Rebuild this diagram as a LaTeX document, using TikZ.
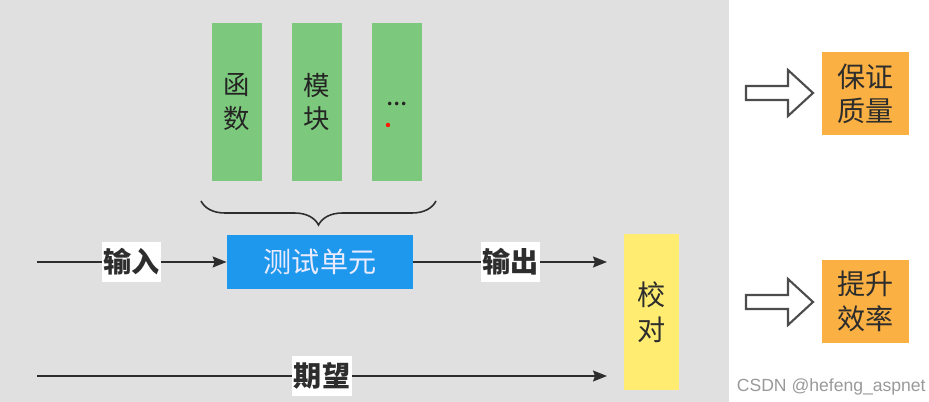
\documentclass[tikz,border=0pt]{standalone}
\usepackage{fontspec}
\setmainfont{Noto Sans CJK SC}
\newfontfamily\markfont{Liberation Sans}
\usetikzlibrary{arrows.meta,decorations.pathreplacing}
\definecolor{bggray}{RGB}{224,224,224}
\definecolor{partgreen}{RGB}{124,200,124}
\definecolor{unitblue}{RGB}{30,152,236}
\definecolor{checkyellow}{RGB}{255,236,112}
\definecolor{gainorange}{RGB}{250,176,66}
\definecolor{inkgray}{RGB}{45,45,45}

\begin{document}
\begin{tikzpicture}[x=0.2mm,y=-0.2mm,
    part/.style={fill=partgreen, minimum width=10mm, minimum height=31.6mm, inner sep=0pt,
      align=center, text=inkgray!80!black, font=\fontsize{15}{19}\selectfont},
    tag/.style={fill=white, inner xsep=0.3mm, inner ysep=1.4mm, text=inkgray, font=\fontsize{16}{18}\selectfont\bfseries},
    flow/.style={line width=0.9pt, inkgray, -{Stealth[length=2.8mm,width=2.2mm,inset=0.4mm]}},
    gain/.style={fill=gainorange, minimum width=17.4mm, minimum height=16.6mm, inner sep=0pt,
      align=center, text=inkgray, font=\fontsize{16}{19.5}\selectfont},
    hollow/.style={draw=inkgray!85, fill=white, line width=1.2pt, line join=miter}]
  \useasboundingbox (0,0) rectangle (929,402);
  \fill[bggray] (0,0) rectangle (729,402);

  % units under test
  \node[part] (func) at (237,102) {函\\数};
  \node[part] (mod) at (317,102) {模\\块};
  \node[part] (more) at (397,102) {\raisebox{-1.4mm}{...}};
  \fill[red!80!orange] (388,125) circle (2.2);
  \draw[line width=0.9pt, inkgray, decorate, decoration={brace, mirror, amplitude=4.8mm}]
    (201,201) -- (436,201);

  \node[fill=unitblue, minimum width=37.2mm, minimum height=10.8mm, inner sep=0pt,
    text=white!92!blue, font=\fontsize{16}{18}\selectfont] (unit) at (320,262) {测试单元};
  \node[fill=checkyellow, minimum width=11mm, minimum height=31.2mm, inner sep=0pt,
    align=center, text=inkgray, font=\fontsize{16}{20}\selectfont] (check) at (651.5,312) {校\\对};

  \coordinate (inL) at (37,262);
  \coordinate (outR) at (607,262);
  \coordinate (expL) at (37,376);
  \coordinate (expR) at (607,376);
  \draw[flow] (inL) -- node[tag] {输入} (unit.west);
  \draw[flow] (unit.east) -- node[tag] {输出} (outR);
  \draw[flow] (expL) -- node[tag] {期望} (expR);

  % results
  \node[gain] (quality) at (865.5,93.5) {保证\\质量};
  \node[gain] (speed) at (865.5,301.5) {提升\\效率};
  \draw[hollow] (746,86) -- ++(42,0) -- ++(0,-16) -- ++(25,23) -- ++(-25,23) -- ++(0,-16) -- ++(-42,0) -- cycle;
  \draw[hollow] (746,295) -- ++(42,0) -- ++(0,-16) -- ++(25,23) -- ++(-25,23) -- ++(0,-16) -- ++(-42,0) -- cycle;

  \node[anchor=east, inner sep=0pt, text=gray!80, font=\markfont\fontsize{10}{12}\selectfont] (mark) at (926,387) {CSDN @hefeng\_aspnet};
\end{tikzpicture}
\end{document}
